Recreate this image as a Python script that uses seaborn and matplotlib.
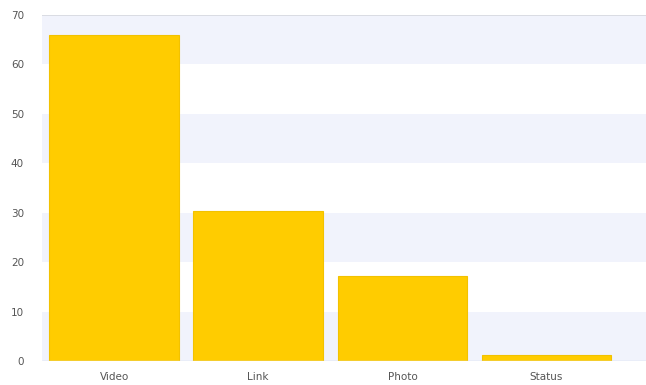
import matplotlib
matplotlib.use("Agg")
import matplotlib.pyplot as plt
import seaborn as sns
import pandas as pd

# post types and their values
categories = ["Video", "Link", "Photo", "Status"]
values = [66, 30.3, 17.2, 1.2]
yticks = [0, 10, 20, 30, 40, 50, 60, 70]

df = pd.DataFrame({"type": categories, "value": values})

sns.set_style("white")
plt.rcParams["font.family"] = ["DejaVu Sans"]

fig = plt.figure(figsize=(6.46, 3.85), dpi=100)
ax = fig.add_axes([0.065, 0.0623, 0.935, 0.8987])

# alternating background bands
for i in range(len(yticks) - 1):
    if i % 2 == 0:
        ax.axhspan(yticks[i], yticks[i + 1], color="#f1f3fc", lw=0, zorder=0)

sns.barplot(data=df, x="type", y="value", color="#ffcc00", saturation=1,
            width=0.9, edgecolor="#f2c200", linewidth=0.8, ax=ax, zorder=2)

ax.set_ylim(0, 70)
ax.set_xlim(-0.5, 3.69)
ax.set_yticks(yticks)
ax.axhline(70, color="#d6d8df", lw=1.2, zorder=3)
ax.axhline(0, color="#ccd6eb", lw=1.0, zorder=3)
for s in ax.spines.values():
    s.set_visible(False)
ax.set_xlabel("")
ax.set_ylabel("")
ax.tick_params(axis="both", length=0, labelsize=7.5, labelcolor="#555555")
ax.tick_params(axis="y", pad=13)
ax.tick_params(axis="x", pad=8)

fig.savefig("out.png", dpi=100)
